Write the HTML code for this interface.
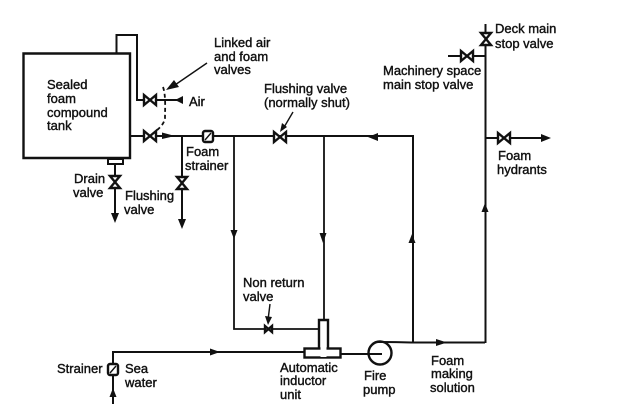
<!DOCTYPE html>
<html><head><meta charset="utf-8"><style>
html,body{margin:0;padding:0;background:#fff}
svg{display:block}
text{font-family:"Liberation Sans",sans-serif;font-size:13px;fill:#111;stroke:#111;stroke-width:.4px}
.l{fill:none;stroke:#111;stroke-width:2}
.t{fill:none;stroke:#111;stroke-width:2.400}
.n{fill:none;stroke:#111;stroke-width:1.400}
.m{fill:none;stroke:#111;stroke-width:1.800}
.h{fill:#111;stroke:none}
.v{fill:#fff;stroke:#111;stroke-width:2.400}
</style></head><body>
<svg width="634" height="413" viewBox="0 0 634 413" xmlns="http://www.w3.org/2000/svg">
<defs>
<g id="vh"><path class="v" d="M-6,-5 L6,5 L6,-5 L-6,5 Z"/></g>
<g id="vv"><path class="v" d="M-5,-6 L5,6 L-5,6 L5,-6 Z"/></g>
</defs>
<path class="t" d="M23.500,53.500 H130 V158 H23.500 Z"/>
<path class="l" d="M116.500,53 V35 H137 V100 H178"/>
<path class="l" d="M130,136 H413 V343"/>
<path class="l" d="M182,136 V225"/>
<path class="m" d="M234,137 V329 H319"/>
<path class="m" d="M324,137 V320"/>
<path class="l" d="M115,165 V218"/>
<path class="l" d="M113,404 V352 H304"/>
<path class="l" d="M341,354 H382"/>
<path class="l" d="M378,342 C385,342 395,342 411,342.500 H485"/>
<path class="l" d="M485.500,24 V343"/>
<path class="l" d="M448,56 H486"/>
<path class="l" d="M486,138 H548"/>
<path class="l" d="M108,159 H123 V164 H108 Z"/>
<rect x="304.500" y="348.500" width="36" height="9" class="t" fill="#fff"/>
<path class="t" d="M319,348 V320 H328 V348"/>
<path d="M320.500,346 h6 v11 h-6z" fill="#fff"/>
<circle cx="380" cy="353" r="11.500" class="t"/>
<use href="#vh" x="150" y="100"/><use href="#vh" x="150" y="136"/>
<use href="#vv" x="115" y="182"/><use href="#vv" x="182" y="183"/>
<use href="#vh" x="280" y="137"/><use href="#vh" x="467" y="56"/>
<use href="#vv" x="486" y="39"/><use href="#vh" x="504" y="138"/>
<path class="v" d="M265,326 L272,332 L272,326 L265,332 Z"/>
<rect x="203" y="131" width="10" height="11" rx="2" class="v"/>
<path class="n" d="M205,140 L211,133"/>
<rect x="108" y="364" width="10" height="11" rx="2" class="v"/>
<path class="n" d="M110,373 L116,366"/>
<path class="m" d="M163,87 C166,95 165,110 165,118 C164,125 158,129 154,133" stroke-dasharray="4 3"/>
<path class="n" d="M207,63 L172,87"/>
<path class="n" d="M293,112 L283,129"/>
<path class="n" d="M270,304 L268,320"/>
<path class="h" d="M166,90 L174,80 L179,87 Z"/>
<path class="h" d="M175,100 L183,96 V104 Z"/>
<path class="h" d="M162,132.500 L175,136 L162,139 Z"/>
<path class="h" d="M115,223 L111,213 H119 Z"/>
<path class="h" d="M182,229 L178,219 H186 Z"/>
<path class="h" d="M280,132 L282,123 L287,127 Z"/>
<path class="h" d="M368,137 L378,133 V141 Z"/>
<path class="h" d="M234,239 L230.500,230 H237.500 Z"/>
<path class="h" d="M323,243 L319.500,233 H326.500 Z"/>
<path class="h" d="M412,234 L408.500,243 H415.500 Z"/>
<path class="h" d="M485,203 L481.500,212 H488.500 Z"/>
<path class="h" d="M551,138 L541,134 V142 Z"/>
<path class="h" d="M220,352 L210,348.500 V355.500 Z"/>
<path class="h" d="M113,388 L109.500,397 H116.500 Z"/>
<path class="h" d="M436,339 L447,342.500 L436,346 Z"/>
<path class="h" d="M268,325 L265,316 L272,317 Z"/>
<text x="47" y="89">Sealed</text><text x="47" y="103">foam</text><text x="47" y="117">compound</text><text x="47" y="130">tank</text>
<text x="214" y="47">Linked air</text><text x="214" y="61">and foam</text><text x="214" y="74">valves</text>
<text x="189" y="106">Air</text>
<text x="264" y="93">Flushing valve</text><text x="264" y="107">(normally shut)</text>
<text x="186" y="156">Foam</text><text x="185" y="170">strainer</text>
<text x="74" y="183">Drain</text><text x="73" y="197">valve</text>
<text x="125" y="200">Flushing</text><text x="124" y="214">valve</text>
<text x="495" y="33">Deck main</text><text x="495" y="48">stop valve</text>
<text x="383" y="75">Machinery space</text><text x="383" y="89">main stop valve</text>
<text x="498" y="160">Foam</text><text x="497" y="174">hydrants</text>
<text x="243" y="287">Non return</text><text x="243" y="301">valve</text>
<text x="57" y="373">Strainer</text><text x="125" y="373">Sea</text><text x="125" y="387">water</text>
<text x="280" y="372">Automatic</text><text x="280" y="385">inductor</text><text x="280" y="399">unit</text>
<text x="364" y="380">Fire</text><text x="363" y="394">pump</text>
<text x="431" y="365">Foam</text><text x="431" y="378">making</text><text x="430" y="392">solution</text>
</svg>
</body></html>
